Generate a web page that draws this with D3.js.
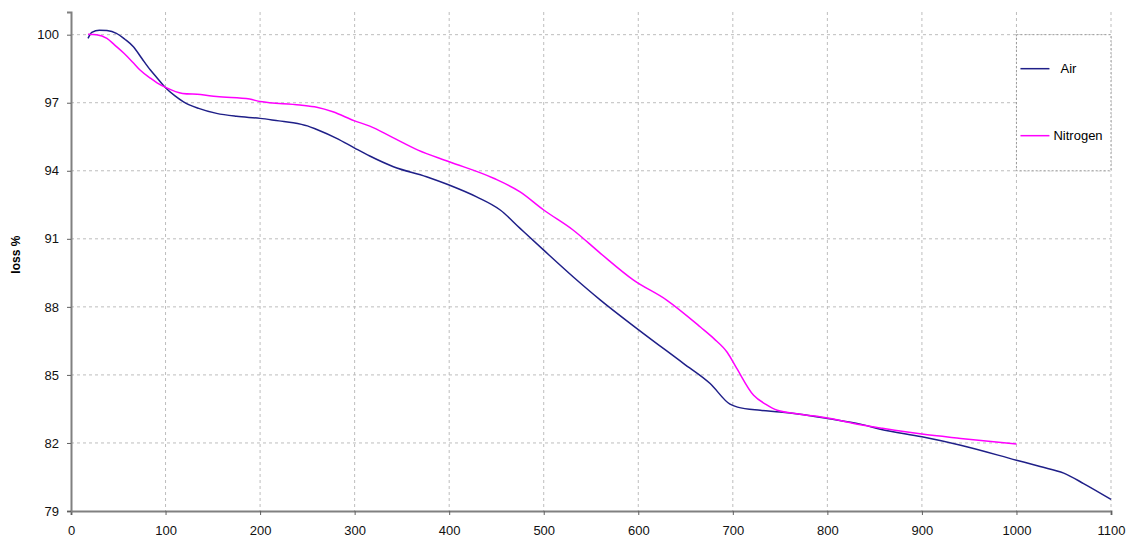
<!DOCTYPE html>
<html>
<head>
<meta charset="utf-8">
<script src="https://cdn.jsdelivr.net/npm/d3@7"></script>
<style>
  body { margin: 0; background: #fff; }
  svg { display: block; font-family: Arial, "Liberation Sans", sans-serif; }
</style>
</head>
<body>
<div id="chart"></div>
<script>
// temperature values
var airX = [18, 22, 30, 38, 48, 57, 66, 75, 84, 92, 100, 110, 119, 135, 154, 175, 200, 220, 235, 250,
            260, 281, 300, 316, 341, 376, 400, 429, 454, 475, 500, 531, 560, 600, 648, 676, 697, 705,
            729, 750, 771, 800, 835, 856, 900, 941, 1000, 1025, 1050, 1071, 1100];
var airY = [99.84, 100.1, 100.2, 100.18, 100.06, 99.8, 99.47, 98.95, 98.44, 98.05, 97.66, 97.3, 97.04,
            96.75, 96.53, 96.4, 96.31, 96.2, 96.12, 95.98, 95.82, 95.43, 95.0, 94.65, 94.18, 93.74,
            93.37, 92.85, 92.27, 91.46, 90.5, 89.33, 88.3, 87.0, 85.5, 84.62, 83.71, 83.58, 83.44,
            83.37, 83.27, 83.08, 82.83, 82.6, 82.27, 81.9, 81.24, 80.96, 80.67, 80.21, 79.51];

var n2X = [18, 27, 38, 46, 56, 65, 73, 84, 91, 100, 118, 137, 154, 189, 200, 242, 260, 277, 300, 316,
           340, 367, 400, 447, 475, 500, 531, 560, 595, 630, 666, 680, 694, 704, 722, 735, 747, 771,
           800, 835, 856, 900, 941, 1000];
var n2Y = [100.02, 100.0, 99.84, 99.55, 99.18, 98.8, 98.44, 98.08, 97.88, 97.68, 97.41, 97.36, 97.27,
           97.16, 97.05, 96.9, 96.8, 96.6, 96.2, 95.97, 95.47, 94.91, 94.4, 93.67, 93.07, 92.27, 91.39,
           90.36, 89.18, 88.3, 87.1, 86.6, 86.0, 85.3, 84.1, 83.7, 83.44, 83.27, 83.1, 82.8, 82.66,
           82.39, 82.2, 81.95];

var xTicks = [0, 100, 200, 300, 400, 500, 600, 700, 800, 900, 1000, 1100];
var yTicks = [79, 82, 85, 88, 91, 94, 97, 100];
var seriesNames = ["Air", "Nitrogen"];
var seriesColors = ["#1f1f88", "#ff00ff"];

var W = 1129, H = 539;
var margin = {top: 12, right: 18, bottom: 28, left: 71};
var width = W - margin.left - margin.right,
    height = H - margin.top - margin.bottom;

var x = d3.scaleLinear().domain([0, 1100]).range([0, width]);
var y = d3.scaleLinear().domain([79, 101]).range([height, 0]);

var svg = d3.select("#chart").append("svg")
    .attr("width", W)
    .attr("height", H);

var g = svg.append("g")
    .attr("transform", "translate(" + margin.left + "," + margin.top + ")");

// grid
g.append("g").selectAll("line").data(xTicks.slice(1)).join("line")
    .attr("x1", d => x(d)).attr("x2", d => x(d))
    .attr("y1", 0).attr("y2", height)
    .attr("stroke", "#bdbdbd").attr("stroke-dasharray", "3,3");
g.append("g").selectAll("line").data(yTicks.slice(1)).join("line")
    .attr("x1", 0).attr("x2", width)
    .attr("y1", d => y(d)).attr("y2", d => y(d))
    .attr("stroke", "#bdbdbd").attr("stroke-dasharray", "3,3");

// axes
var xAxis = g.append("g")
    .attr("transform", "translate(0," + height + ")")
    .call(d3.axisBottom(x).tickValues(xTicks).tickSize(4).tickPadding(11).tickFormat(d3.format("d")));
var yAxis = g.append("g")
    .call(d3.axisLeft(y).tickValues(yTicks).tickSize(4).tickPadding(8).tickFormat(d3.format("d")));

[xAxis, yAxis].forEach(function(a) {
    a.select(".domain").attr("stroke", "#808080").attr("stroke-width", 2);
    a.selectAll(".tick line").attr("stroke", "#606060");
    a.selectAll(".tick text").attr("fill", "#111").style("font-size", "13px");
});

svg.append("text")
    .attr("transform", "translate(20," + (margin.top + y(90.3)) + ") rotate(-90)")
    .attr("text-anchor", "middle")
    .style("font-size", "12px")
    .style("font-weight", "bold")
    .text("loss %");

var line = d3.line()
    .x(d => x(d[0]))
    .y(d => y(d[1]))
    .curve(d3.curveMonotoneX);

var series = [d3.zip(airX, airY), d3.zip(n2X, n2Y)];
g.selectAll(".series").data(series).join("path")
    .attr("class", "series")
    .attr("fill", "none")
    .attr("stroke", (d, i) => seriesColors[i])
    .attr("stroke-width", 1.5)
    .attr("d", line);

// legend box over the grid
var lg = g.append("g").attr("transform", "translate(" + x(1000) + "," + y(100) + ")");
lg.append("rect")
    .attr("width", x(1100) - x(1000))
    .attr("height", y(94) - y(100))
    .attr("fill", "#fff")
    .attr("stroke", "#9a9a9a")
    .attr("stroke-dasharray", "2,2");
var items = lg.selectAll(".item").data(seriesNames).join("g")
    .attr("class", "item")
    .attr("transform", (d, i) => "translate(4," + (34 + i * 67) + ")");
items.append("line")
    .attr("x1", 0).attr("x2", 29)
    .attr("stroke", (d, i) => seriesColors[i])
    .attr("stroke-width", 1.5);
items.append("text")
    .attr("x", (d, i) => i === 0 ? 40 : 33)
    .attr("dy", "0.35em")
    .style("font-size", "13px")
    .text(d => d);
</script>
</body>
</html>
